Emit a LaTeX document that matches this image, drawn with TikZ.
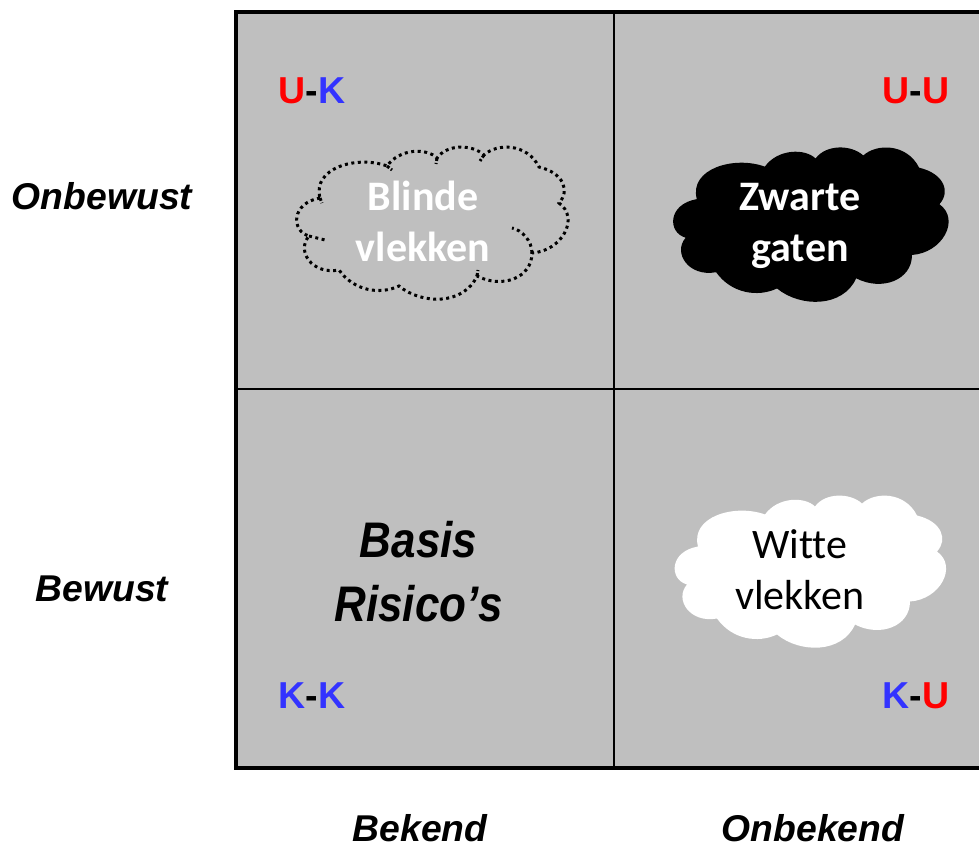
\documentclass[tikz,border=0pt]{standalone}
\usepackage{fontspec}
\setmainfont{Liberation Sans}
\newfontfamily\cloudfont[Ligatures=NoCommon]{Carlito}
\definecolor{quadgray}{HTML}{BFBFBF}
\definecolor{knownblue}{HTML}{3333FF}
\definecolor{unknownred}{HTML}{FF0000}
\newcommand{\K}{\textcolor{knownblue}{K}}
\newcommand{\U}{\textcolor{unknownred}{U}}
% one lobe after the other, anticlockwise from the left lobe
\newcommand{\cloudpath}{
  (-112,-25) .. controls (-141,-20) and (-141,8) .. (-123,13)
  .. controls (-136,28) and (-120,52) .. (-93,47)
  .. controls (-78,68) and (-52,72) .. (-33,63)
  .. controls (-10,82) and (32,82) .. (45,53)
  .. controls (70,66) and (100,55) .. (100,30)
  .. controls (130,28) and (148,-5) .. (127,-20)
  .. controls (138,-32) and (132,-50) .. (107,-56)
  .. controls (95,-80) and (65,-80) .. (52,-68)
  .. controls (40,-79) and (15,-79) .. (5,-65)
  .. controls (-5,-75) and (-32,-75) .. (-45,-57)
  .. controls (-75,-68) and (-120,-55) .. (-112,-25)
  -- cycle
}
\tikzset{
  axislabel/.style={inner sep=0pt, font=\fontsize{37.3}{42}\selectfont\bfseries\itshape},
  quadlabel/.style={font=\fontsize{37.5}{42}\selectfont\bfseries},
  cloudtext/.style={font=\cloudfont\fontsize{42}{51}\selectfont, align=center},
  cloudbold/.style={font=\cloudfont\bfseries\fontsize{42}{51}\selectfont, align=center, text=white},
  dottedcloud/.style={draw=black, line width=3pt, dash pattern=on 3pt off 3.5pt}
}
\begin{document}
\begin{tikzpicture}[x=1pt,y=-1pt]
    \useasboundingbox (0,0) rectangle (979,845);

    % The four quadrants, the right side runs off the page
    \fill[quadgray] (236,12) rectangle (979,768);
    \draw[line width=3.5pt] (979,12) -- (236,12) -- (236,768) -- (979,768);
    \draw[line width=2pt] (614,12) -- (614,768);
    \draw[line width=2pt] (236,389) -- (979,389);

    % Clouds
    \draw[dottedcloud, shift={(432,223)}] \cloudpath;
    \draw[dottedcloud, shift={(432,223)}] (100,30) .. controls (100,18) and (90,7) .. (80,5);
    \draw[dottedcloud, shift={(432,223)}] (-123,13) -- (-107,17);
    \foreach \sx/\sy/\ex/\ey in {-45/-57/-40/-53, 5/-65/4/-59, 52/-68/48/-62, -112/-25/-110/-20, 45/53/46/47} {
      \draw[line width=3pt, dash pattern=on 3pt off 2pt, shift={(432,223)}] (\sx,\sy) -- (\ex,\ey);
    }
    \fill[black, shift={(810.5,224.5)}, scale=1.015] \cloudpath;
    \fill[white, shift={(810,571.5)}] \cloudpath;

    \node[cloudbold] (blinde) at (423,221) {Blinde\\vlekken};
    \node[cloudbold] (zwarte) at (800,226) {Zwarte\\gaten};
    \node[cloudtext] (witte) at (800,570) {Witte\\vlekken};

    % Basis risks
    \node[align=center, xscale=0.88, font=\fontsize{50}{64}\selectfont\bfseries\itshape] (basis) at (418.5,572) {Basis\\Risico’s};

    % Quadrant codes
    \node[quadlabel] (uk) at (312,91) {\U-\K};
    \node[quadlabel] (uu) at (916,91) {\U-\U};
    \node[quadlabel] (kk) at (312,696) {\K-\K};
    \node[quadlabel] (ku) at (916,696) {\K-\U};

    % Axis labels
    \node[axislabel] (onbewust) at (102,196) {Onbewust};
    \node[axislabel] (bewust) at (102,589) {Bewust};
    \node[axislabel] (bekend) at (420,828) {Bekend};
    \node[axislabel] (onbekend) at (813,828) {Onbekend};
\end{tikzpicture}
\end{document}
